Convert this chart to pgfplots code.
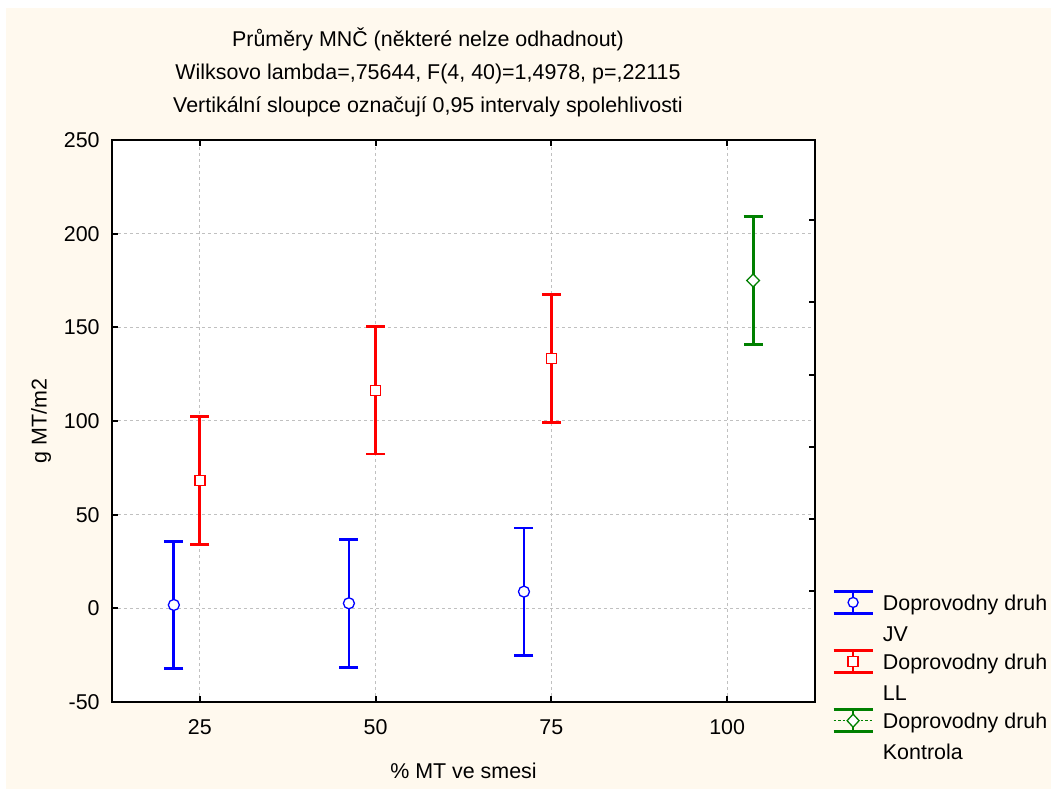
\documentclass[border=0pt]{standalone}
\usepackage{pgfplots}
\pgfplotsset{compat=1.18}
\usepackage{fontspec}
\setmainfont{Liberation Sans}
\definecolor{bgcream}{RGB}{255,249,238}
\definecolor{ebblue}{RGB}{0,0,255}
\definecolor{ebred}{RGB}{255,0,0}
\definecolor{ebgreen}{RGB}{0,128,0}
\definecolor{gridgray}{RGB}{192,192,192}
\newcommand{\legoff}{15.5bp}
\begin{document}
\fontsize{21.5}{29.5}\selectfont
\begin{tikzpicture}
\useasboundingbox (-112bp,-87bp) rectangle (939bp,702bp);
\fill[white] (-112bp,-87bp) rectangle (939bp,702bp);
\fill[bgcream] (-106bp,-87bp) rectangle (939bp,694bp);
\begin{axis}[
  at={(0bp,0bp)}, anchor=south west,
  scale only axis, width=703bp, height=562bp,
  xmin=12.5, xmax=112.5, ymin=-50, ymax=250,
  axis background/.style={fill=white},
  xtick={25,50,75,100}, xticklabels={25,50,75,100},
  ytick={-50,0,50,100,150,200,250}, yticklabels={-50,0,50,100,150,200,250},
  xtick pos=both, ytick pos=left, tick align=inside,
  major tick length=6bp,
  tick style={line width=2bp, black},
  axis line style={line width=2bp, black},
  grid=major,
  major grid style={gridgray, line width=1bp, dash pattern=on 3bp off 3bp},
  xticklabel style={yshift=-10bp},
  yticklabel style={xshift=-5bp},
  every axis x label/.style={at={(rel axis cs:0.5,0)}, yshift=-69bp, anchor=center},
  every axis y label/.style={at={(rel axis cs:0,0.5)}, xshift=-71bp, anchor=center, rotate=90},
  xlabel={\% MT ve smesi},
  ylabel={g MT/m2},
  title={Průměry MNČ (některé nelze odhadnout)\\Wilksovo lambda=,75644, F(4, 40)=1,4978, p=,22115\\Vertikální sloupce označují 0,95 intervaly spolehlivosti},
  title style={at={(rel axis cs:0,1)}, anchor=center, xshift=316bp, yshift=62bp, align=center, font=\fontsize{21.5}{33}\selectfont},
  legend style={draw=none, fill=none, at={(1.02,0.203)}, anchor=north west,
    nodes={align=left, text depth=}, row sep=6bp, column sep=7bp,
    font=\fontsize{21.5}{31}\selectfont},
  legend cell align=left,
]
\addplot[ebblue, only marks, mark=*, mark size=5.5bp,
  mark options={fill=white, draw=ebblue, line width=1.3bp, solid},
  legend image code/.code={
    \draw[ebblue, line width=2.7bp] (0bp,\legoff-11bp) -- (39bp,\legoff-11bp) (0bp,\legoff+11bp) -- (39bp,\legoff+11bp) (19.5bp,\legoff-11bp) -- (19.5bp,\legoff+11bp);
    \draw[ebblue, line width=1.3bp, fill=white] (19.5bp,\legoff) circle (5bp);
  },
  error bars/.cd, y dir=both, y explicit, error mark=|,
  error bar style={line width=2.8bp, ebblue},
  error mark options={line width=2.8bp, mark size=9.5bp, ebblue}]
  coordinates {(21.3,1.8) +- (0,34.0) (46.2,2.7) +- (0,34.2) (71.1,8.9) +- (0,34.0)};
\addlegendentry{Doprovodny druh\\JV}
\addplot[ebred, only marks, mark=square*, mark size=5bp,
  mark options={fill=white, draw=ebred, line width=1.3bp, solid},
  legend image code/.code={
    \draw[ebred, line width=2.7bp] (0bp,\legoff-11bp) -- (39bp,\legoff-11bp) (0bp,\legoff+11bp) -- (39bp,\legoff+11bp) (19.5bp,\legoff-11bp) -- (19.5bp,\legoff+11bp);
    \draw[ebred, line width=1.3bp, fill=white] (14.5bp,\legoff-5bp) rectangle (24.5bp,\legoff+5bp);
  },
  error bars/.cd, y dir=both, y explicit, error mark=|,
  error bar style={line width=2.8bp, ebred},
  error mark options={line width=2.8bp, mark size=9.5bp, ebred}]
  coordinates {(25,68.2) +- (0,34.0) (50,116.4) +- (0,34.0) (75,133.4) +- (0,34.1)};
\addlegendentry{Doprovodny druh\\LL}
\addplot[ebgreen, only marks, mark=diamond*, mark size=6.5bp,
  mark options={fill=white, draw=ebgreen, line width=1.3bp, solid, xscale=1.3},
  legend image code/.code={
    \draw[ebgreen, line width=2.7bp] (0bp,\legoff-11bp) -- (39bp,\legoff-11bp) (0bp,\legoff+11bp) -- (39bp,\legoff+11bp) (19.5bp,\legoff-11bp) -- (19.5bp,\legoff+11bp);
    \draw[ebgreen, line width=1.5bp, dash pattern=on 2.5bp off 2bp] (0bp,\legoff) -- (39bp,\legoff);
    \draw[ebgreen, line width=1.3bp, fill=white] (13.5bp,\legoff) -- (19.5bp,\legoff+6.5bp) -- (25.5bp,\legoff) -- (19.5bp,\legoff-6.5bp) -- cycle;
  },
  error bars/.cd, y dir=both, y explicit, error mark=|,
  error bar style={line width=2.8bp, ebgreen},
  error mark options={line width=2.8bp, mark size=9.5bp, ebgreen}]
  coordinates {(103.7,175) +- (0,34.0)};
\addlegendentry{Doprovodny druh\\Kontrola}
\end{axis}
\begin{axis}[
  at={(0bp,0bp)}, anchor=south west,
  scale only axis, width=703bp, height=562bp,
  xmin=12.5, xmax=112.5, ymin=-50, ymax=250,
  xtick=\empty, ytick={9.2,47.7,86.1,124.6,163.3,207.1}, yticklabels={},
  ytick pos=right, tick align=inside, major tick length=6bp,
  tick style={line width=2bp, black},
  axis line style={draw=none},
]
\end{axis}
\end{tikzpicture}
\end{document}
